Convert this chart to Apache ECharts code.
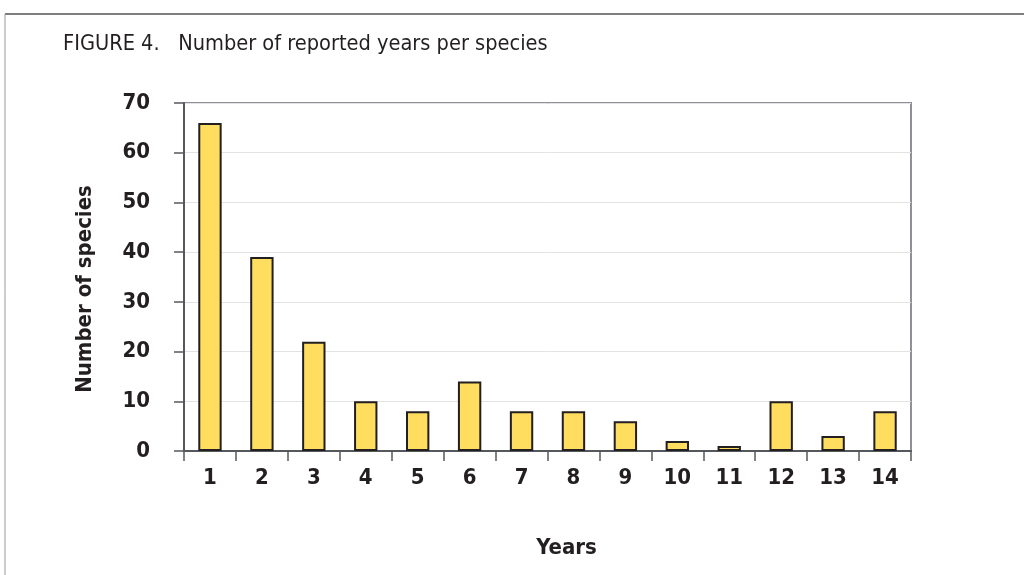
<!DOCTYPE html>
<html>
<head>
<meta charset="utf-8">
<script src="https://cdn.jsdelivr.net/npm/echarts@6/dist/echarts.min.js"></script>
<style>
  html, body { margin: 0; padding: 0; background: #fff; }
  #chart { width: 1024px; height: 575px; }
</style>
</head>
<body>
<div id="chart"></div>
<script>
// categories = number of reported years
const years = ['1', '2', '3', '4', '5', '6', '7', '8', '9', '10', '11', '12', '13', '14']
// number of species per category
const speciesCount = [66, 39, 22, 10, 8, 14, 8, 8, 6, 2, 1, 10, 3, 8]
const yTicks = [0, 10, 20, 30, 40, 50, 60, 70]

const font = '"Liberation Sans Narrow", "DejaVu Sans Condensed", "Liberation Sans", sans-serif'

const chart = echarts.init(document.getElementById('chart'))
chart.setOption({
  animation: false,
  textStyle: { fontFamily: font },
  title: {
    text: 'FIGURE 4.   Number of reported years per species',
    left: 63, top: 33, padding: 0,
    textStyle: { fontFamily: font, fontSize: 21.6, fontWeight: 'normal', color: '#231f20' }
  },
  graphic: [
    { type: 'line', shape: { x1: 5, y1: 14, x2: 1024, y2: 14 }, style: { stroke: '#555', lineWidth: 1.5 } },
    { type: 'line', shape: { x1: 5, y1: 14, x2: 5, y2: 575 }, style: { stroke: '#999', lineWidth: 1 } }
  ],
  grid: {
    left: 184, right: 113, top: 103, bottom: 124,
    show: true, borderColor: '#8e9196', borderWidth: 2
  },
  xAxis: {
    type: 'category',
    data: years,
    name: 'Years',
    nameLocation: 'middle',
    nameGap: 86,
    nameTextStyle: { fontFamily: font, fontSize: 22, fontWeight: 'bold', color: '#231f20', padding: [0, 0, 0, 38] },
    axisLine: { lineStyle: { color: '#55585c', width: 2 } },
    axisTick: { show: true, alignWithLabel: false, interval: 0, length: 10, lineStyle: { color: '#55585c', width: 1.5 } },
    axisLabel: { margin: 16, fontFamily: font, fontSize: 22, fontWeight: 'bold', color: '#231f20' }
  },
  yAxis: {
    type: 'value',
    min: yTicks[0], max: yTicks[yTicks.length - 1], interval: 10,
    name: 'Number of species',
    nameLocation: 'middle',
    nameGap: 88,
    nameTextStyle: { fontFamily: font, fontSize: 22, fontWeight: 'bold', color: '#231f20', padding: [0, 24, 0, 0] },
    axisLine: { show: true, lineStyle: { color: '#55585c', width: 2 } },
    axisTick: { show: true, length: 10, lineStyle: { color: '#55585c', width: 1.5 } },
    axisLabel: { margin: 34, fontFamily: font, fontSize: 22, fontWeight: 'bold', color: '#231f20' },
    splitLine: { lineStyle: { color: '#e3e3e3', width: 1 } }
  },
  series: [{
    type: 'bar',
    data: speciesCount,
    barWidth: '45%',
    itemStyle: { color: '#ffde5f', borderColor: '#231f20', borderWidth: 2 }
  }]
})
</script>
</body>
</html>
